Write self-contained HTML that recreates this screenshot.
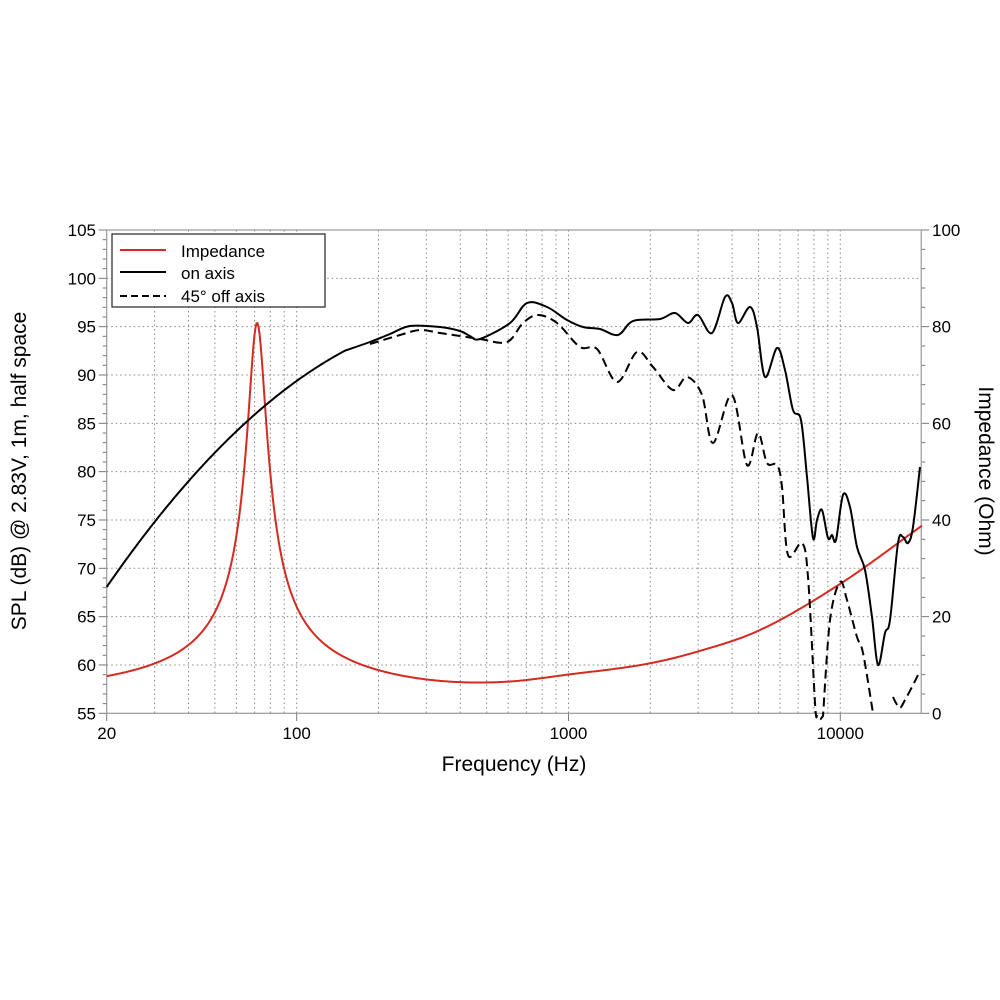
<!DOCTYPE html>
<html><head><meta charset="utf-8"><style>
html,body{margin:0;padding:0;background:#fff;}
svg{display:block;font-family:"Liberation Sans",Arial,sans-serif;}
</style></head><body>
<svg id="s" width="1000" height="1000" viewBox="0 0 1000 1000" xmlns="http://www.w3.org/2000/svg">
<g id="grid" stroke="#888" stroke-width="1" stroke-dasharray="1.5,3" fill="none"></g>
<g id="ticks" stroke="#777" stroke-width="1" fill="none"></g>
<rect x="106.7" y="230" width="814.5" height="483.3" fill="none" stroke="#999" stroke-width="1.2"/>
<path id="red" fill="none" stroke="#d42a20" stroke-width="2"/>
<path id="solid" fill="none" stroke="#000" stroke-width="2"/>
<path id="dash1" fill="none" stroke="#000" stroke-width="2" stroke-dasharray="9,5"/>
<path id="dash2" fill="none" stroke="#000" stroke-width="2" stroke-dasharray="9,5"/>
<g id="labels" font-size="17" fill="#000"></g>
<rect x="112" y="234" width="213" height="73" fill="#fff" stroke="#222" stroke-width="1.2"/>
<line x1="120" y1="250" x2="166" y2="250" stroke="#d42a20" stroke-width="2"/>
<line x1="120" y1="272" x2="166" y2="272" stroke="#000" stroke-width="2"/>
<line x1="120" y1="296" x2="166" y2="296" stroke="#000" stroke-width="2" stroke-dasharray="7,4"/>
<text x="181" y="257" font-size="17">Impedance</text>
<text x="181" y="279" font-size="17">on axis</text>
<text x="181" y="302" font-size="17">45° off axis</text>
<text x="514" y="771" font-size="21" text-anchor="middle">Frequency (Hz)</text>
<text transform="translate(26,471) rotate(-90)" font-size="21" text-anchor="middle">SPL (dB) @ 2.83V, 1m, half space</text>
<text transform="translate(979,471) rotate(90)" font-size="21" text-anchor="middle">Impedance (Ohm)</text>
</svg>
<script>
var X0=106.7,DEC=271.8,Y0=713.3,PD=9.666,PO=4.833,XR=921.2;
function fx(f){return X0+DEC*Math.log10(f/20);}
var g=document.getElementById('grid'),t=document.getElementById('ticks'),L=document.getElementById('labels');
function ln(p,x1,y1,x2,y2){var e=document.createElementNS('http://www.w3.org/2000/svg','line');e.setAttribute('x1',x1);e.setAttribute('y1',y1);e.setAttribute('x2',x2);e.setAttribute('y2',y2);p.appendChild(e);}
function tx(x,y,s,a){var e=document.createElementNS('http://www.w3.org/2000/svg','text');e.setAttribute('x',x);e.setAttribute('y',y);e.setAttribute('text-anchor',a);e.textContent=s;L.appendChild(e);}
[10,100,1000,10000].forEach(function(d){for(var k=1;k<10;k++){var f=d*k;if(f<=20||f>=20000)continue;var x=fx(f);ln(g,x,230,x,713.3);}});
for(var v=60;v<=100;v+=5){var y=Y0-(v-55)*PD;ln(g,X0,y,XR,y);}
for(var v=55;v<=105;v++){var y=Y0-(v-55)*PD;ln(t,X0-(v%5==0?8:4),y,X0,y);}
for(var o=0;o<=100;o+=4){var y=Y0-o*PO;ln(t,XR,y,XR+(o%20==0?8:4),y);}
[20,100,1000,10000].forEach(function(f){var x=fx(f);ln(t,x,713.3,x,721);tx(x,739,String(f),'middle');});
for(var v=55;v<=105;v+=5){tx(96,Y0-(v-55)*PD+6,String(v),'end');}
for(var o=0;o<=100;o+=20){tx(932,Y0-o*PO+6,String(o),'start');}
var bt=[[20,3.8],[100,3.8],[350,3.9],[600,5.0],[1000,7.1],[2000,9.9],[3000,12.5],[5000,16.9],[10000,26.7],[20000,38.8]];
var bx=bt.map(function(p){return Math.log10(p[0]);}),by=bt.map(function(p){return p[1];});
var n=bx.length,m=[];
for(var i=0;i<n;i++){if(i==0)m.push((by[1]-by[0])/(bx[1]-bx[0]));else if(i==n-1)m.push((by[n-1]-by[n-2])/(bx[n-1]-bx[n-2]));else m.push(((by[i+1]-by[i])/(bx[i+1]-bx[i])+(by[i]-by[i-1])/(bx[i]-bx[i-1]))/2);}
function base(f){var l=Math.log10(f);for(var i=0;i<n-1;i++){if(l<=bx[i+1]){var h=bx[i+1]-bx[i],s=(l-bx[i])/h;var h00=2*s*s*s-3*s*s+1,h10=s*s*s-2*s*s+s,h01=-2*s*s*s+3*s*s,h11=s*s*s-s*s;return h00*by[i]+h10*h*m[i]+h01*by[i+1]+h11*h*m[i+1];}}return by[n-1];}
var d='';for(var i=0;i<=800;i++){var f=20*Math.pow(1000,i/800);var q=f/71.5-71.5/f;var z=base(f)+77/Math.sqrt(1+36*q*q);d+=(i?'L':'M')+fx(f).toFixed(2)+','+(Y0-z*PO).toFixed(2);}
document.getElementById('red').setAttribute('d',d);
function cr(p){var s='M'+p[0][0]+','+p[0][1];for(var i=0;i<p.length-1;i++){var p0=p[i-1]||p[i],p1=p[i],p2=p[i+1],p3=p[i+2]||p2;var c1x=p1[0]+(p2[0]-p0[0])/6,c1y=p1[1]+(p2[1]-p0[1])/6,c2x=p2[0]-(p3[0]-p1[0])/6,c2y=p2[1]-(p3[1]-p1[1])/6;s+='C'+c1x.toFixed(1)+','+c1y.toFixed(1)+' '+c2x.toFixed(1)+','+c2y.toFixed(1)+' '+p2[0]+','+p2[1];}return s;}
function lowy(x){var dx=x-106.7;return 587-1.45*dx+0.9*dx*dx/(2*234);}
var lowd='M106.7,587';
for(var x=108.7;x<345;x+=2){lowd+='L'+x.toFixed(1)+','+lowy(x).toFixed(2);}
var sol=[[345,+lowy(345).toFixed(2)],[370,342],[390,334],[410,326],[440,327],[460,331],[470,336],[480,339],[510,323],[527,303],[547,307],[567,320],[583,327],[600,329],[618,335],[633,321],[660,319],[675,313],[688,323],[698,315],[712,333],[725,297],[732,303],[738,323],[750,307],[757,327],[765,377],[777,348],[785,370],[793,410],[801,420],[807,477],[813,538],[817,520],[822,510],[828,538],[832,535],[836,540],[843,495],[850,507],[857,547],[865,570],[872,617],[878,665],[885,633],[890,620],[898,543],[903,537],[908,543],[913,527],[920,467]];
var da=[[370,344],[400,335],[420,330],[440,333],[460,336],[480,339],[507,342],[523,323],[538,315],[557,323],[580,347],[597,349],[617,382],[637,352],[653,367],[673,390],[687,377],[702,395],[713,443],[732,395],[747,465],[758,433],[767,463],[777,465],[782,487],[788,555],[802,543],[808,577],[815,703],[817,716]];
var da1b=[[823,716],[830,620],[840,582],[847,600],[857,637],[863,653],[873,713]];
var da2=[[893,697],[896,703],[900,708],[905,700],[913,685],[918,675]];
document.getElementById('solid').setAttribute('d',lowd+cr(sol).replace('M','L'));
document.getElementById('dash1').setAttribute('d',cr(da)+' L820,720 '+cr(da1b).replace('M','L'));
document.getElementById('dash2').setAttribute('d',cr(da2));
</script>
</body></html>
